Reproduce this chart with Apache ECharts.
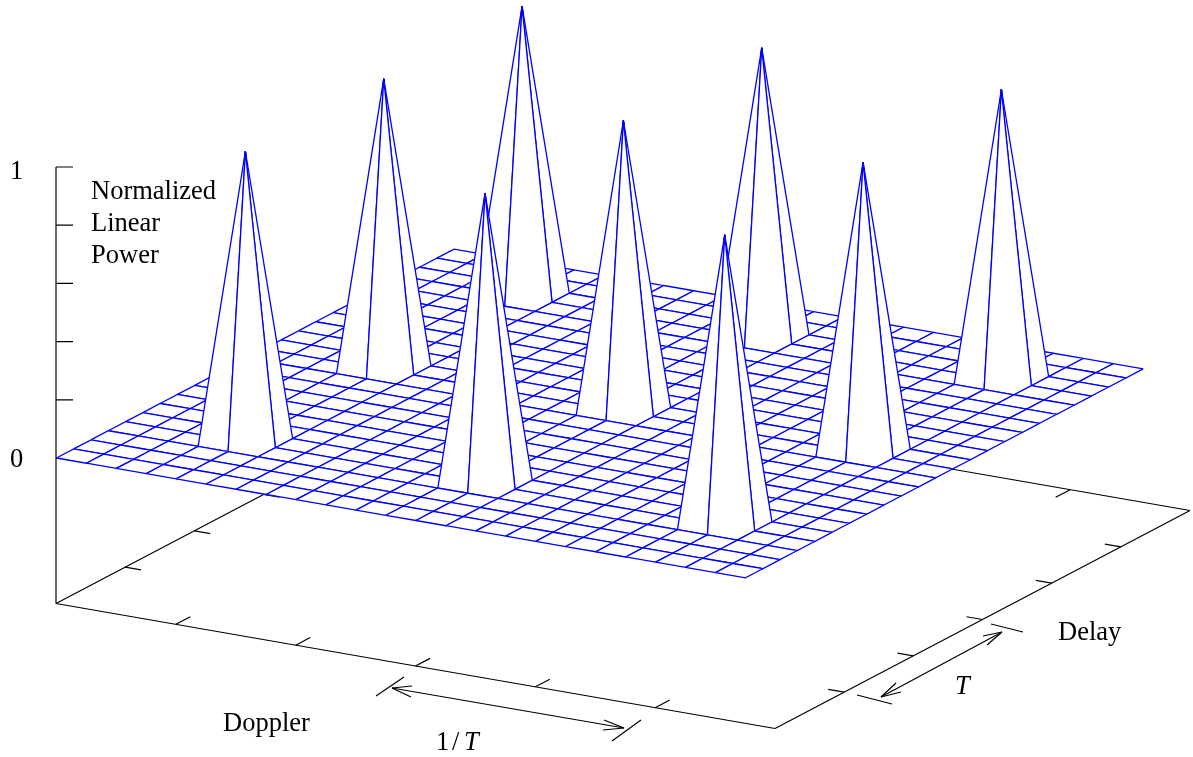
<!DOCTYPE html>
<html>
<head>
<meta charset="utf-8">
<style>html,body{margin:0;padding:0;background:#fff}#c{width:1193px;height:757px}</style>
<script src="https://cdn.jsdelivr.net/npm/echarts@6/dist/echarts.min.js"></script>
</head>
<body>
<div id="c"></div>
<script>
// --- values ---
const dopplerValues = [0,0.25,0.5,0.75,1,1.25,1.5,1.75,2,2.25,2.5,2.75,3,3.25,3.5,3.75,4,4.25,4.5,4.75,5,5.25,5.5,5.75];
const delayValues   = [0,0.25,0.5,0.75,1,1.25,1.5,1.75,2,2.25,2.5,2.75,3,3.25,3.5,3.75,4,4.25,4.5,4.75,5,5.25,5.5,5.75];
const peakDoppler = [1,3,5];
const peakDelay   = [1,3,5];
const peakPower   = [[1,1,1],[1,1,1],[1,1,1]];
const floorPower  = 0;
const powerTicks   = [0,0.2,0.4,0.6,0.8,1];
const dopplerTicks = [1,2,3,4,5];
const delayTicks   = [1,2,3,4,5];
const axisExtent   = 6;
const axisBase     = -0.5;

// --- orthographic view used for every surface and axis point ---
const VIEW = {ox:56, oy:458, dx:[719/6,125/6], dy:[415/6,-218/6], zPx:291};
const SURFACE_SHIFT = [0.4,0];
function project(x,y,z){
  return [VIEW.ox + x*VIEW.dx[0] + y*VIEW.dy[0],
          VIEW.oy + x*VIEW.dx[1] + y*VIEW.dy[1] - z*VIEW.zPx];
}
function projectSurface(x,y,z){
  const p=project(x,y,z);
  return [p[0]+SURFACE_SHIFT[0],p[1]+SURFACE_SHIFT[1]];
}

// --- surface table ---
function heightAt(i,j){
  const pi = peakDoppler.indexOf(dopplerValues[i]);
  const pj = peakDelay.indexOf(delayValues[j]);
  return (pi>=0 && pj>=0) ? peakPower[pj][pi] : floorPower;
}
const cells = [];
for(let j=delayValues.length-2;j>=0;j--){
  for(let i=0;i<dopplerValues.length-1;i++) cells.push([i,j]);
}

// --- 3D axis box ---
const axisSegments = [];
function seg3(a,b){axisSegments.push([a[0],a[1],a[2],b[0],b[1],b[2]]);}
const E = axisExtent, B = axisBase;
seg3([0,0,B],[E,0,B]); seg3([E,0,B],[E,E,B]); seg3([E,E,B],[0,E,B]); seg3([0,E,B],[0,0,B]);
seg3([0,0,B],[0,0,1]);
const tickX = 0.133, tickY = 0.21;
dopplerTicks.forEach(t=>{ seg3([t,0,B],[t,tickY,B]); seg3([t,E,B],[t,E-tickY,B]); });
delayTicks.forEach(t=>{ seg3([0,t,B],[tickX,t,B]); seg3([E,t,B],[E-tickX,t,B]); });
powerTicks.forEach(t=>{ seg3([0,0,t],[0.1066,0.0611,t]); });

// --- drawn annotations (view-plane positions) ---
const annotationSegments = [
  [376,696,404,677],[612,741,641,720],[392,688,624,728],
  [392,688,412,686],[392,688,411,697],[624,728,604,720],[624,728,603,730],
  [991,624,1023,632],[857,695,892,704],[1002,632,881,697],
  [1002,632,983,636],[1002,632,987,645],[881,697,896,683],[881,697,901,692]
];
const labelTexts = [
  {t:'1',x:10,y:179},{t:'0',x:10,y:467},
  {t:'Normalized',x:91,y:199},{t:'Linear',x:91,y:231},{t:'Power',x:91,y:263},
  {t:'Doppler',x:223,y:731},{t:'Delay',x:1058,y:640},
  {t:'1',x:436,y:750},{t:'/',x:452,y:750},{t:'T',x:464,y:750,i:1},{t:'T',x:955,y:694,i:1}
];

const FONT = '"Liberation Serif","Times New Roman",serif', FS = 26.5, BLUE='#0000ff', INK='#000';

function polyLine(api,pts,color,w){
  return {type:'polyline',shape:{points:pts.map(p=>api.coord(p))},
          style:{fill:null,stroke:color,lineWidth:w},silent:true};
}
function renderSurface(params,api){
  const i=api.value(0), j=api.value(1);
  const xa=dopplerValues[i], xb=dopplerValues[i+1], ya=delayValues[j], yb=delayValues[j+1];
  const z00=heightAt(i,j), z10=heightAt(i+1,j), z11=heightAt(i+1,j+1), z01=heightAt(i,j+1);
  const p00=projectSurface(xa,ya,z00), p10=projectSurface(xb,ya,z10), p11=projectSurface(xb,yb,z11), p01=projectSurface(xa,yb,z01);
  const tri=(a,b,c)=>({type:'polygon',shape:{points:[a,b,c].map(p=>api.coord(p))},
                       style:{fill:'#fff',stroke:null},silent:true});
  const ch=[tri(p00,p11,p01),
            polyLine(api,[p11,p01,p00],BLUE,1.3),
            tri(p00,p10,p11),
            polyLine(api,[p00,p10,p11],BLUE,1.3)];
  if(z00>floorPower||z11>floorPower) ch.push(polyLine(api,[p00,p11],BLUE,1.3));
  return {type:'group',children:ch};
}
function renderAxis(params,api){
  const a=project(api.value(0),api.value(1),api.value(2));
  const b=project(api.value(3),api.value(4),api.value(5));
  return polyLine(api,[a,b],INK,1.2);
}
function renderAnno(params,api){
  return polyLine(api,[[api.value(0),api.value(1)],[api.value(2),api.value(3)]],INK,1.2);
}
function renderText(params,api){
  const l=labelTexts[params.dataIndex], c=api.coord([api.value(0),api.value(1)]);
  return {type:'text',silent:true,x:c[0],y:c[1],
    style:{text:l.t,fill:INK,font:(l.i?'italic ':'')+FS+'px '+FONT,align:'left',verticalAlign:'top'}};
}

const chart = echarts.init(document.getElementById('c'),null,{renderer:'canvas',width:1193,height:757});
chart.setOption({
  animation:false,
  backgroundColor:'#fff',
  grid:{left:0,right:0,top:0,bottom:0,containLabel:false},
  xAxis:{type:'value',min:0,max:1193,show:false},
  yAxis:{type:'value',min:0,max:757,inverse:true,show:false},
  tooltip:{show:false},
  series:[
    {type:'custom',name:'Axes',coordinateSystem:'cartesian2d',z:1,clip:false,silent:true,
     renderItem:renderAxis,data:axisSegments,progressive:0,encode:{x:[],y:[]}},
    {type:'custom',name:'Normalized Linear Power',coordinateSystem:'cartesian2d',z:2,clip:false,silent:true,
     renderItem:renderSurface,data:cells,progressive:0,encode:{x:[],y:[]}},
    {type:'custom',name:'Annotations',coordinateSystem:'cartesian2d',z:3,clip:false,silent:true,
     renderItem:renderAnno,data:annotationSegments,progressive:0,encode:{x:[],y:[]}},
    {type:'custom',name:'Labels',coordinateSystem:'cartesian2d',z:4,clip:false,silent:true,
     renderItem:renderText,data:labelTexts.map(l=>[l.x,l.y-20]),progressive:0,encode:{x:[],y:[]}}
  ]
});
</script>
</body>
</html>
